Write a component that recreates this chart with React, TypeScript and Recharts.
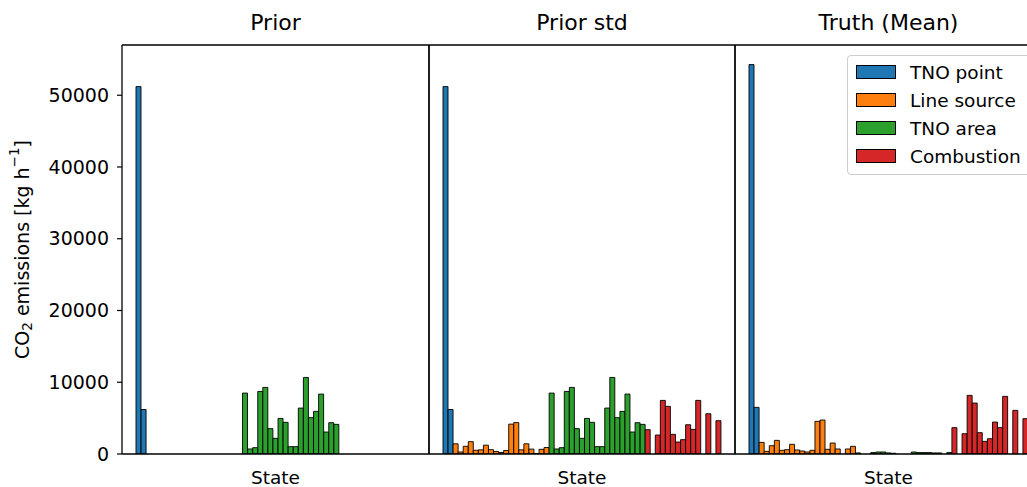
import React from 'react';
import { BarChart, Bar, XAxis, YAxis, Legend } from 'recharts';

const FONT = '"DejaVu Sans", sans-serif';

// states 0-1 TNO point, 2-20 line source, 21-39 TNO area, 40-54 combustion
const pointPrior = [51200, 6200];
const linePrior = [0, 0, 0, 0, 0, 0, 0, 0, 0, 0, 0, 0, 0, 0, 0, 0, 0, 0, 0];
const areaPrior = [8490, 700, 880, 8720, 9280, 3530, 2180, 4960, 4410, 1020, 1020, 6400, 10670, 5060, 5940, 8350, 3060, 4360, 4130];
const combPrior = [0, 0, 0, 0, 0, 0, 0, 0, 0, 0, 0, 0, 0, 0, 0];

const pointStd = [51200, 6200];
const lineStd = [1420, 280, 1070, 1720, 520, 580, 1230, 600, 350, 210, 490, 4160, 4380, 580, 1420, 680, 60, 650, 900];
const areaStd = [8490, 700, 880, 8720, 9280, 3530, 2180, 4960, 4410, 1020, 1020, 6400, 10670, 5060, 5940, 8350, 3060, 4360, 4130];
const combStd = [3390, 0, 2640, 7470, 6640, 2740, 1670, 2000, 4080, 3430, 7470, 0, 5610, 0, 4640];

const pointTruth = [54270, 6500];
const lineTruth = [1620, 370, 1160, 1900, 510, 600, 1350, 560, 420, 280, 510, 4550, 4730, 650, 1530, 700, 0, 700, 1070];
const areaTruth = [150, 0, 0, 200, 280, 280, 150, 100, 0, 0, 0, 280, 200, 200, 200, 150, 150, 0, 200];
const combTruth = [3670, 0, 2830, 8170, 7100, 2970, 1760, 2130, 4450, 3670, 8030, 0, 6080, 0, 4920];

const yTicks = [0, 10000, 20000, 30000, 40000, 50000];

const SERIES = [
  { key: 'point', name: 'TNO point', color: '#1f77b4' },
  { key: 'line', name: 'Line source', color: '#ff7f0e' },
  { key: 'area', name: 'TNO area', color: '#2ca02c' },
  { key: 'comb', name: 'Combustion', color: '#d62728' },
];

const buildRows = (point: number[], line: number[], area: number[], comb: number[]) => {
  const rows: any[] = [];
  const groups: [string, number[]][] = [['point', point], ['line', line], ['area', area], ['comb', comb]];
  groups.forEach(([key, vals]) => {
    vals.forEach(v => {
      rows.push({ state: `s${rows.length}`, [key]: v });
    });
  });
  return rows;
};

const YLabel = (props: any) => {
  const vb = props.viewBox || { y: 45, height: 409 };
  const cx = 22;
  const cy = vb.y + vb.height / 2;
  return (
    <text x={cx} y={cy} transform={`rotate(-90, ${cx}, ${cy})`} textAnchor="middle"
      dominantBaseline="central" fontSize={19} fontFamily={FONT} fill="#000">
      CO<tspan fontSize={13.5} dy={5}>2</tspan>
      <tspan dy={-5}> emissions [kg h</tspan>
      <tspan fontSize={13.5} dy={-8}>−1</tspan>
      <tspan dy={8}>]</tspan>
    </text>
  );
};

const LegendBox = (props: any) => {
  // only the four real series, in the order they were added
  const entries = SERIES.filter(s => (props.payload || []).some((p: any) => p.value === s.name));
  return (
    <div style={{
      border: '1px solid #cccccc', borderRadius: 4, background: 'rgba(255,255,255,0.8)',
      padding: '2px 10px 4px 8px', fontFamily: FONT, fontSize: 18.5, whiteSpace: 'nowrap', color: '#000',
    }}>
      {entries.map(s => (
        <div key={s.key} style={{ display: 'flex', alignItems: 'center', height: 28 }}>
          <span style={{
            display: 'inline-block', width: 40, height: 14, background: s.color,
            border: '1px solid #000', boxSizing: 'border-box',
          }} />
          <span style={{ marginLeft: 14 }}>{s.name}</span>
        </div>
      ))}
    </div>
  );
};

const spine = { stroke: '#000', strokeWidth: 1.3 };

const Panel = ({ rows, title, left, width, showY, showLegend }: any) => (
  <div style={{ position: 'absolute', left, top: 0 }}>
    <BarChart width={width} height={487} data={rows}
      margin={{ top: 44, right: 0, bottom: 0, left: 0 }}
      barCategoryGap={0} barGap={0}>
      <XAxis dataKey="state" tick={false} tickLine={false} axisLine={spine} height={33}
        padding={{ left: 14, right: 14 }}
        label={{ value: 'State', position: 'insideBottom', offset: 3, fill: '#000', fontSize: 18.5, fontFamily: FONT }} />
      <XAxis xAxisId="top" orientation="top" dataKey="state" tick={false} tickLine={false} axisLine={spine}
        height={1} padding={{ left: 14, right: 14 }}
        label={{ value: title, position: 'top', offset: 14, fill: '#000', fontSize: 22, fontFamily: FONT }} />
      <YAxis domain={[0, 57000]} ticks={yTicks} allowDataOverflow width={showY ? 122 : 1}
        axisLine={spine}
        tick={showY ? { fill: '#000', fontSize: 19, fontFamily: FONT } : false}
        tickLine={showY ? { stroke: '#000', strokeWidth: 1.2 } : false}
        tickSize={5} tickMargin={8}
        label={showY ? <YLabel /> : undefined} />
      <YAxis yAxisId="right" orientation="right" domain={[0, 57000]} width={1} tick={false} tickLine={false}
        axisLine={spine} />
      {SERIES.map(s => (
        <Bar key={s.key} dataKey={s.key} name={s.name} stackId="a" fill={s.color} stroke="#000"
          strokeWidth={0.9} isAnimationActive={false} />
      ))}
      <Bar xAxisId="top" yAxisId="right" dataKey="frame" name="frame" legendType="none" isAnimationActive={false} />
      {showLegend && (
        <Legend layout="vertical" align="center" verticalAlign="middle" content={<LegendBox />}
          wrapperStyle={{ position: 'absolute', left: 113, top: 55, width: 'auto', height: 'auto' }} />
      )}
    </BarChart>
  </div>
);

export default function App() {
  const priorRows = buildRows(pointPrior, linePrior, areaPrior, combPrior);
  const stdRows = buildRows(pointStd, lineStd, areaStd, combStd);
  const truthRows = buildRows(pointTruth, lineTruth, areaTruth, combTruth);
  return (
    <div style={{
      position: 'fixed', left: 0, top: 0, width: 1027, height: 487, overflow: 'hidden',
      background: '#fff', fontFamily: FONT,
    }}>
      <Panel rows={priorRows} title="Prior" left={0} width={430} showY />
      <Panel rows={stdRows} title="Prior std" left={428} width={308} />
      <Panel rows={truthRows} title="Truth (Mean)" left={734} width={309} showLegend />
    </div>
  );
}
